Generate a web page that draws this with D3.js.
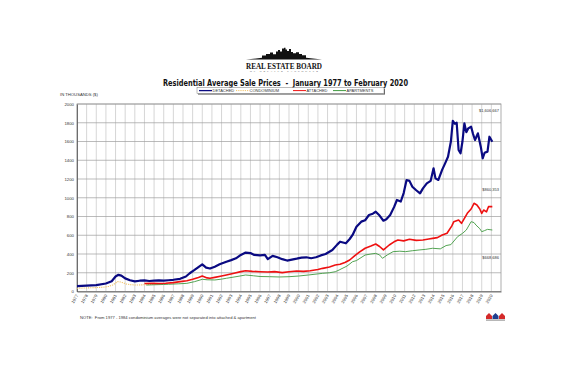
<!DOCTYPE html>
<html>
<head>
<meta charset="utf-8">
<script src="https://cdn.jsdelivr.net/npm/d3@7"></script>
<style>
    html, body { margin: 0; padding: 0; background: #fff; }
    svg { display: block; font-family: "Liberation Sans", Arial, sans-serif; }
</style>
</head>
<body>
<div id="chart-prices"></div>
<script>
/* ── data (thousands of $) ────────────────────────────────────────── */
var YEARS = ["1977","1978","1979","1980","1981","1982","1983","1984","1985","1986",
             "1987","1988","1989","1990","1991","1992","1993","1994","1995","1996",
             "1997","1998","1999","2000","2001","2002","2003","2004","2005","2006",
             "2007","2008","2009","2010","2011","2012","2013","2014","2015","2016",
             "2017","2018","2019","2020"];

var Y_TICKS = [0, 200, 400, 600, 800, 1000, 1200, 1400, 1600, 1800, 2000];

var DETACHED = [
    [1977.0, 58], [1978.0, 62], [1979.0, 68], [1980.0, 85], [1980.6, 110], [1981.0, 160],
    [1981.3, 178], [1981.6, 170], [1982.0, 140], [1982.5, 120], [1983.0, 108], [1983.5, 115],
    [1984.0, 118], [1984.5, 112], [1985.0, 115], [1985.5, 118], [1986.0, 115], [1986.5, 120],
    [1987.0, 125], [1987.7, 135], [1988.3, 160], [1988.7, 195], [1989.2, 230], [1989.6, 260],
    [1990.0, 290], [1990.4, 255], [1990.8, 245], [1991.3, 265], [1991.8, 290], [1992.5, 318],
    [1993.0, 335], [1993.5, 354], [1994.0, 390], [1994.5, 415], [1995.0, 410], [1995.4, 390],
    [1996.0, 385], [1996.5, 390], [1996.8, 345], [1997.3, 380], [1997.8, 365], [1998.3, 345],
    [1998.8, 330], [1999.3, 340], [1999.8, 350], [2000.3, 362], [2000.8, 365], [2001.3, 355],
    [2001.8, 365], [2002.3, 385], [2002.8, 400], [2003.5, 443], [2004.0, 500], [2004.3, 531],
    [2004.9, 514], [2005.3, 560], [2005.6, 603], [2006.0, 690], [2006.5, 745], [2006.9, 760],
    [2007.3, 816], [2007.7, 830], [2008.0, 851], [2008.4, 810], [2008.8, 755], [2009.1, 770],
    [2009.5, 816], [2009.9, 900], [2010.2, 976], [2010.6, 960], [2010.9, 1050], [2011.2, 1189],
    [2011.5, 1180], [2011.8, 1118], [2012.2, 1080], [2012.6, 1047], [2012.9, 1100], [2013.3, 1154],
    [2013.7, 1180], [2014.0, 1314], [2014.2, 1207], [2014.5, 1190], [2014.9, 1300], [2015.2, 1367],
    [2015.5, 1438], [2015.8, 1600], [2016.0, 1820], [2016.2, 1790], [2016.4, 1800], [2016.6, 1509],
    [2016.8, 1474], [2017.0, 1600], [2017.2, 1794], [2017.4, 1700], [2017.6, 1740], [2017.9, 1758],
    [2018.1, 1680], [2018.3, 1616], [2018.6, 1687], [2018.9, 1545], [2019.1, 1421], [2019.3, 1480],
    [2019.6, 1492], [2019.8, 1651], [2020.1, 1598]
];

var CONDOMINIUM = [
    [1977.0, 35], [1978.0, 38], [1979.0, 42], [1979.7, 45], [1980.3, 55], [1980.7, 69],
    [1981.2, 105], [1981.6, 100], [1982.1, 80], [1982.6, 72], [1983.2, 69], [1984.0, 72],
    [1984.9, 77], [1985.5, 80]
];

var ATTACHED = [
    [1984.0, 85], [1984.8, 88], [1985.5, 86], [1986.2, 88], [1987.0, 95], [1987.7, 105],
    [1988.4, 115], [1989.0, 130], [1989.6, 150], [1990.0, 165], [1990.5, 145], [1990.8, 141],
    [1991.3, 151], [1992.0, 165], [1992.5, 176], [1993.3, 195], [1994.0, 212], [1994.5, 222],
    [1995.2, 215], [1996.0, 211], [1996.8, 208], [1997.5, 212], [1998.3, 201], [1999.0, 210],
    [1999.8, 219], [2000.5, 215], [2001.2, 222], [2002.0, 235], [2002.5, 247], [2003.2, 262],
    [2003.8, 283], [2004.3, 290], [2004.8, 310], [2005.3, 336], [2005.8, 380], [2006.3, 420],
    [2006.9, 461], [2007.5, 485], [2008.0, 507], [2008.4, 480], [2008.8, 443], [2009.4, 496],
    [2009.9, 530], [2010.3, 549], [2010.9, 540], [2011.5, 557], [2012.2, 545], [2012.9, 549],
    [2013.5, 560], [2013.9, 567], [2014.4, 575], [2014.9, 603], [2015.4, 621], [2015.9, 700],
    [2016.1, 745], [2016.6, 763], [2016.9, 727], [2017.5, 834], [2017.9, 880], [2018.2, 941],
    [2018.5, 923], [2018.8, 880], [2019.0, 834], [2019.2, 869], [2019.5, 850], [2019.7, 905],
    [2020.1, 905]
];

var APARTMENTS = [
    [1984.2, 69], [1985.0, 72], [1986.0, 75], [1986.5, 77], [1987.5, 82], [1988.4, 87],
    [1989.2, 105], [1990.0, 130], [1990.5, 125], [1991.3, 123], [1992.0, 132], [1992.5, 141],
    [1993.5, 158], [1994.5, 176], [1995.3, 168], [1996.0, 160], [1997.0, 158], [1998.0, 155],
    [1999.0, 158], [2000.0, 165], [2001.0, 176], [2002.0, 188], [2002.5, 194], [2003.2, 200],
    [2003.8, 211], [2004.2, 229], [2004.5, 245], [2005.0, 270], [2005.6, 318], [2006.0, 330],
    [2006.9, 389], [2007.5, 400], [2008.0, 407], [2008.4, 390], [2008.7, 354], [2009.2, 390],
    [2009.8, 425], [2010.5, 430], [2011.1, 425], [2011.8, 435], [2012.5, 443], [2013.2, 450],
    [2013.9, 461], [2014.7, 455], [2015.3, 490], [2015.8, 500], [2016.5, 585], [2017.0, 620],
    [2017.4, 656], [2017.9, 745], [2018.2, 735], [2018.4, 709], [2018.8, 670], [2019.0, 638],
    [2019.3, 650], [2019.6, 663], [2020.1, 656]
];

var LATEST = ["$1,606,667", "$860,353", "$668,686"];

(function () {

    var W = 566, H = 377;
    var margin = { top: 104, right: 65, bottom: 85.5, left: 77 };
    var iW = W - margin.left - margin.right;
    var iH = H - margin.top - margin.bottom;

    var SERIES = [
        { data: CONDOMINIUM, color: "#f2c46a", width: 1.1, dash: "1.2 1", label: "CONDOMINIUM" },
        { data: APARTMENTS,  color: "#3f9a3f", width: 0.9, dash: null,    label: "APARTMENTS"  },
        { data: ATTACHED,    color: "#ee1111", width: 1.6, dash: null,    label: "ATTACHED"    },
        { data: DETACHED,    color: "#0a0a82", width: 2.2, dash: null,    label: "DETACHED"    }
    ];

    var root = d3.select("#chart-prices").append("svg")
        .attr("width", W).attr("height", H);

    /* ── logo ─────────────────────────────────────────────────────── */
    var logo = root.append("g").attr("transform", "translate(284,0)");
    // ground strip, tapered ends
    logo.append("path")
        .attr("d", "M-38,59.5 L-20,57.6 L20,57.6 L38,59.5 Z")
        .attr("fill", "#111");
    // skyline
    logo.append("path")
        .attr("d", "M-22,58 V55.5 H-18 V54 H-14 V52.6 H-11 V54.2 H-8 V51.5 H-6 V50 H-4 V51.5 H-2 V48.5 " +
                   "H0 V47.8 H1.5 V49.5 H3 V51 H5 V49 H7 V52 H9 V53.2 H12 V52.2 H15 V54 H18 V55.2 H22 V58 Z")
        .attr("fill", "#111");
    logo.append("text")
        .attr("x", 0).attr("y", 68.5)
        .attr("text-anchor", "middle")
        .attr("textLength", 76).attr("lengthAdjust", "spacingAndGlyphs")
        .style("font-family", "'Liberation Serif', 'Times New Roman', serif")
        .style("font-weight", "bold")
        .style("font-size", "8.5px")
        .style("fill", "#111")
        .text("REAL ESTATE BOARD");
    logo.append("text")
        .attr("x", 0).attr("y", 72.3)
        .attr("text-anchor", "middle")
        .attr("textLength", 68).attr("lengthAdjust", "spacing")
        .style("font-family", "'Liberation Serif', serif")
        .style("font-size", "2.6px")
        .style("fill", "#222")
        .text("OF GREATER VANCOUVER");

    /* ── title ────────────────────────────────────────────────────── */
    root.append("text")
        .attr("x", 285.5).attr("y", 85.5)
        .attr("text-anchor", "middle")
        .attr("textLength", 245).attr("lengthAdjust", "spacingAndGlyphs")
        .style("font-family", "'DejaVu Sans', Verdana, sans-serif")
        .style("font-weight", "bold")
        .style("font-size", "8.2px")
        .style("white-space", "pre")
        .style("fill", "#111")
        .text("Residential Average Sale Prices  -  January 1977 to February 2020");

    /* ── legend ───────────────────────────────────────────────────── */
    var lg = root.append("g").attr("transform", "translate(197,87.6)");
    lg.append("rect").attr("x", 1).attr("y", 1).attr("width", 187).attr("height", 6)
        .attr("fill", "#666");
    lg.append("rect").attr("width", 187).attr("height", 6)
        .attr("fill", "#fff").attr("stroke", "#777").attr("stroke-width", 0.5);

    var legendX = [2, 39, 96, 136];
    var legendOrder = [3, 0, 2, 1];
    legendOrder.forEach(function (si, i) {
        var s = SERIES[si];
        var g = lg.append("g").attr("transform", "translate(" + legendX[i] + ",3)");
        g.append("line")
            .attr("x1", 0).attr("x2", 13)
            .attr("stroke", s.color)
            .attr("stroke-width", si === 3 ? 1.3 : 1)
            .attr("stroke-dasharray", s.dash);
        g.append("text")
            .attr("x", 13.5).attr("y", 1.4)
            .style("font-size", "4px")
            .style("fill", "#333")
            .text(s.label);
    });

    /* ── plot ─────────────────────────────────────────────────────── */
    var svg = root.append("g")
        .attr("transform", "translate(" + margin.left + "," + margin.top + ")");

    var xScale = d3.scaleLinear().domain([1977, 2021]).range([0, iW]);
    var yScale = d3.scaleLinear().domain([0, 2000]).range([iH, 0]);

    // vertical grid, one per year
    svg.append("g").selectAll("line")
        .data(YEARS)
        .enter().append("line")
        .attr("x1", function (d) { return xScale(+d); })
        .attr("x2", function (d) { return xScale(+d); })
        .attr("y1", 0).attr("y2", iH)
        .attr("stroke", "#c4c4c4").attr("stroke-width", 0.7);

    // horizontal grid
    svg.append("g").selectAll("line")
        .data(Y_TICKS)
        .enter().append("line")
        .attr("x1", 0).attr("x2", iW)
        .attr("y1", function (d) { return yScale(d); })
        .attr("y2", function (d) { return yScale(d); })
        .attr("stroke", "#9e9e9e").attr("stroke-width", 0.7);

    // plot frame
    svg.append("rect")
        .attr("width", iW).attr("height", iH)
        .attr("fill", "none").attr("stroke", "#999").attr("stroke-width", 0.8);

    // axes
    svg.append("g")
        .call(d3.axisLeft(yScale).tickValues(Y_TICKS).tickSize(0).tickPadding(3)
            .tickFormat(d3.format("d")))
        .call(function (g) { g.select(".domain").attr("stroke", "#555").attr("stroke-width", 0.8); });

    svg.append("g")
        .attr("transform", "translate(0," + iH + ")")
        .call(d3.axisBottom(xScale).tickValues(YEARS.map(Number)).tickSize(0)
            .tickFormat(function (d) { return String(d); }))
        .call(function (g) {
            g.select(".domain").attr("stroke", "#555").attr("stroke-width", 0.8);
            g.selectAll("text")
                .attr("y", 0).attr("dy", 0)
                .attr("text-anchor", "end")
                .attr("transform", "translate(1,4) rotate(-60)");
        });

    svg.selectAll(".tick text")
        .style("font-family", "'Liberation Sans', Arial, sans-serif")
        .style("font-size", "4.3px")
        .style("fill", "#333");

    svg.append("text")
        .attr("x", -17).attr("y", -8)
        .style("font-size", "4.2px").style("fill", "#333")
        .text("IN THOUSANDS ($)");

    // series
    var line = d3.line()
        .x(function (d) { return xScale(d[0]); })
        .y(function (d) { return yScale(d[1]); })
        .curve(d3.curveLinear);

    SERIES.forEach(function (s) {
        svg.append("path")
            .datum(s.data)
            .attr("d", line)
            .attr("fill", "none")
            .attr("stroke", s.color)
            .attr("stroke-width", s.width)
            .attr("stroke-linejoin", "round")
            .attr("stroke-dasharray", s.dash);
    });

    // latest values
    var latestY = [7.5, 87, 155];
    LATEST.forEach(function (t, i) {
        svg.append("text")
            .attr("x", iW - 2).attr("y", latestY[i])
            .attr("text-anchor", "end")
            .style("font-size", "4px").style("fill", "#333")
            .text(t);
    });

    /* ── footer ───────────────────────────────────────────────────── */
    root.append("text")
        .attr("x", 80).attr("y", 319)
        .attr("textLength", 176).attr("lengthAdjust", "spacingAndGlyphs")
        .style("font-size", "4.3px").style("fill", "#333")
        .style("white-space", "pre")
        .text("NOTE:  From 1977 - 1984 condominium averages were not separated into attached & apartment");

    // small houses mark
    var mark = root.append("g").attr("transform", "translate(486,313)");
    var houseX = [0, 6.5, 13];
    var houseC = ["#d42a2a", "#1f3f8f", "#d42a2a"];
    houseX.forEach(function (hx, i) {
        mark.append("path")
            .attr("d", "M" + hx + ",3 L" + (hx + 3) + ",0 L" + (hx + 6) + ",3 V6 H" + hx + " Z")
            .attr("fill", houseC[i]);
    });
    mark.append("rect").attr("x", 0).attr("y", 6.5).attr("width", 19).attr("height", 1.2)
        .attr("fill", "#999");

}());
</script>
</body>
</html>
